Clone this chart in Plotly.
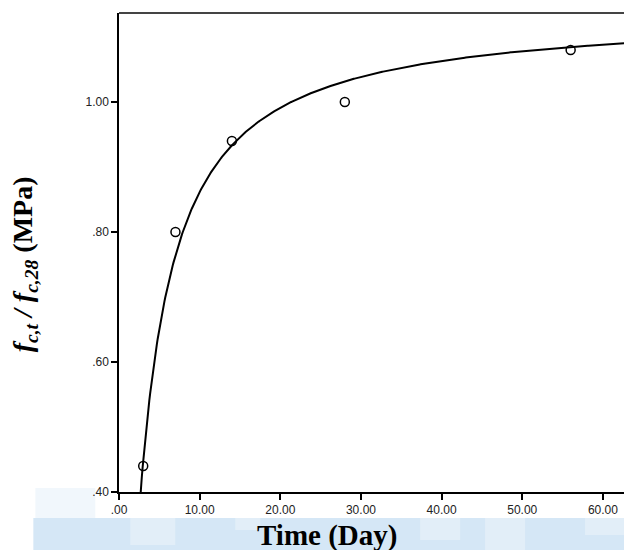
import numpy as np
import plotly.graph_objects as go

# Data
days = [3, 7, 14, 28, 56]
ratio = [0.44, 0.80, 0.94, 1.00, 1.08]
x_tickvals = [0, 10, 20, 30, 40, 50, 60]
x_ticktext = [".00", "10.00", "20.00", "30.00", "40.00", "50.00", "60.00"]
y_tickvals = [0.40, 0.60, 0.80, 1.00]
y_ticktext = [".40", ".60", ".80", "1.00"]

# S-curve fit: ln(y) = b0 + b1/x
b1, b0 = np.polyfit(1.0 / np.array(days), np.log(ratio), 1)
xs = np.linspace(2.0, 64.0, 600)
ys = np.exp(b0 + b1 / xs)

W, H = 624, 550
L, R, T, B = 118.7, 0, 13, 58
pw, ph = W - L - R, H - T - B


def px(xp):
    return (xp - L) / pw


def py(yp):
    return (H - B - yp) / ph


fig = go.Figure()
fig.add_trace(go.Scatter(x=xs, y=ys, mode="lines",
                         line=dict(color="black", width=2), hoverinfo="skip"))
fig.add_trace(go.Scatter(x=days, y=ratio, mode="markers",
                         marker=dict(symbol="circle-open", size=9,
                                     color="black", line=dict(width=1.5))))

shapes = []
# watermark-like light blue band at bottom
shapes.append(dict(type="rect", xref="paper", yref="paper", layer="below",
                   x0=px(33), x1=px(624), y0=py(550), y1=py(518),
                   fillcolor="#d5e7f6", line=dict(width=0)))
shapes.append(dict(type="rect", xref="paper", yref="paper", layer="below",
                   x0=px(35), x1=px(95), y0=py(518), y1=py(488),
                   fillcolor="#f1f7fc", line=dict(width=0)))
for (a, b, c, d) in [(130, 175, 518, 545), (235, 260, 518, 530), (420, 460, 518, 540),
                     (485, 525, 518, 550), (585, 624, 518, 535)]:
    shapes.append(dict(type="rect", xref="paper", yref="paper", layer="below",
                       x0=px(a), x1=px(b), y0=py(d), y1=py(c),
                       fillcolor="#e2eef8", line=dict(width=0)))
# top border
shapes.append(dict(type="line", xref="paper", yref="paper", x0=0, x1=1, y0=1, y1=1,
                   line=dict(color="#444444", width=2)))

tfont = dict(family="Arial, Liberation Sans, sans-serif", size=12, color="#222222")
fig.update_layout(
    width=W, height=H,
    margin=dict(l=L, r=R, t=T, b=B),
    plot_bgcolor="white", paper_bgcolor="white",
    showlegend=False,
    shapes=shapes,
    xaxis=dict(range=[0, pw / 80.7 * 10], tickvals=x_tickvals, ticktext=x_ticktext,
               showline=True, linecolor="black", linewidth=1.5, ticks="outside",
               ticklen=6, tickwidth=1.5, tickcolor="black", showgrid=False,
               zeroline=False, tickfont=tfont),
    yaxis=dict(range=[0.40, 0.40 + ph * 0.2 / 130], tickvals=y_tickvals, ticktext=y_ticktext,
               showline=True, linecolor="black", linewidth=1.5, ticks="outside",
               ticklen=6, tickwidth=1.5, tickcolor="black", showgrid=False,
               zeroline=False, tickfont=tfont),
    annotations=[
        dict(text="<b>Time (Day)</b>", xref="paper", yref="paper",
             x=px(327), y=py(535), showarrow=False, xanchor="center", yanchor="middle",
             font=dict(family="Times New Roman, Liberation Serif, serif", size=29, color="black")),
        dict(text="<b><i>f</i><sub><i>c,t</i></sub><i> / f</i><sub><i>c,28</i></sub> (MPa)</b>",
             xref="paper", yref="paper", x=px(24), y=py(264), textangle=-90,
             showarrow=False, xanchor="center", yanchor="middle",
             font=dict(family="Times New Roman, Liberation Serif, serif", size=28, color="black")),
    ],
)

fig.write_html("out.html")
